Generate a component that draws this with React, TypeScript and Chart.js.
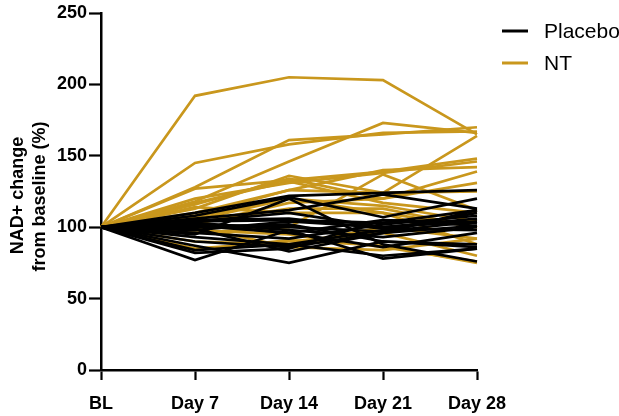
import React, { useEffect, useRef } from "react";
import { Chart, registerables } from "chart.js";

Chart.register(...registerables);

const categories = ["BL", "Day 7", "Day 14", "Day 21", "Day 28"];
const yTicks = [0, 50, 100, 150, 200, 250];
const groupNames = ["Placebo", "NT"];
const groupColors = ["#000000", "#C9971D"];

const placebo: number[][] = [
  [100, 110, 122, 124, 126],
  [100, 108, 121, 107, 120],
  [100, 77, 98, 78, 85],
  [100, 87, 75, 90, 86],
  [100, 82, 85, 105, 103],
  [100, 95, 120, 88, 76],
  [100, 104, 105, 103, 112],
  [100, 102, 100, 97, 104],
  [100, 98, 104, 100, 106],
  [100, 93, 88, 98, 110],
  [100, 103, 98, 93, 100],
  [100, 105, 106, 99, 98],
  [100, 106, 112, 123, 113],
  [100, 101, 96, 86, 96],
  [100, 99, 83, 96, 101],
  [100, 96, 92, 102, 108],
  [100, 104, 110, 100, 104],
  [100, 100, 102, 90, 88],
  [100, 84, 88, 80, 85],
  [100, 102, 96, 105, 101],
  [100, 90, 86, 96, 112],
];

const nt: number[][] = [
  [100, 192, 205, 203, 165],
  [100, 145, 158, 166, 167],
  [100, 128, 161, 165, 170],
  [100, 118, 146, 173, 166],
  [100, 127, 133, 139, 148],
  [100, 113, 136, 124, 164],
  [100, 120, 131, 138, 146],
  [100, 110, 126, 140, 142],
  [100, 116, 134, 120, 131],
  [100, 108, 126, 124, 125],
  [100, 117, 132, 117, 110],
  [100, 105, 120, 115, 104],
  [100, 103, 113, 113, 100],
  [100, 96, 100, 137, 112],
  [100, 84, 91, 87, 75],
  [100, 85, 90, 96, 80],
  [100, 90, 88, 100, 92],
  [100, 102, 117, 120, 139],
  [100, 114, 110, 110, 88],
  [100, 98, 95, 86, 76],
  [100, 107, 120, 110, 100],
  [100, 100, 86, 84, 92],
];

const FONT = "'Liberation Sans', Arial, Helvetica, sans-serif";

const overlayPlugin = {
  id: "overlay",
  afterDraw(chart: any) {
    const { ctx, chartArea } = chart;
    ctx.save();
    const cy = (chartArea.top + chartArea.bottom) / 2;
    ctx.translate(0, cy);
    ctx.rotate(-Math.PI / 2);
    ctx.fillStyle = "#000";
    ctx.font = `bold 18px ${FONT}`;
    ctx.textAlign = "center";
    ctx.textBaseline = "middle";
    ctx.fillText("NAD+ change", -4, 18);
    ctx.fillText("from baseline (%)", -5, 40);
    ctx.restore();
    ctx.save();
    ctx.font = `21px ${FONT}`;
    ctx.textAlign = "left";
    ctx.textBaseline = "middle";
    groupNames.forEach((name, i) => {
      const y = 31 + i * 32;
      ctx.strokeStyle = groupColors[i];
      ctx.lineWidth = 3;
      ctx.beginPath();
      ctx.moveTo(502, y);
      ctx.lineTo(528, y);
      ctx.stroke();
      ctx.fillStyle = "#000";
      ctx.fillText(name, 544, y + 1);
    });
    ctx.restore();
  },
};

export default function App() {
  const ref = useRef<HTMLCanvasElement>(null);
  useEffect(() => {
    if (!ref.current) return;
    const datasets: any[] = [];
    placebo.forEach((d) =>
      datasets.push({ data: d, borderColor: groupColors[0], borderWidth: 2.7, pointRadius: 0, fill: false, tension: 0 })
    );
    nt.forEach((d) =>
      datasets.push({ data: d, borderColor: groupColors[1], borderWidth: 2.7, pointRadius: 0, fill: false, tension: 0 })
    );
    const chart = new Chart(ref.current, {
      type: "line",
      data: { labels: categories, datasets },
      options: {
        animation: false,
        responsive: false,
        maintainAspectRatio: false,
        layout: { padding: { top: 13, right: 142, bottom: 0, left: 0 } },
        plugins: { legend: { display: false }, tooltip: { enabled: false } },
        scales: {
          x: {
            offset: false,
            grid: { drawOnChartArea: false, tickLength: 10, tickColor: "#000", tickWidth: 2.2 },
            border: { color: "#000", width: 2.5 },
            ticks: { color: "#000", font: { family: FONT, size: 18, weight: "bold" }, padding: 13, maxRotation: 0 },
            afterFit: (s: any) => { s.height = 46; },
          },
          y: {
            min: 0,
            max: 250,
            afterBuildTicks: (s: any) => { s.ticks = yTicks.map((v) => ({ value: v })); },
            grid: { drawOnChartArea: false, tickLength: 12, tickColor: "#000", tickWidth: 2.2 },
            border: { color: "#000", width: 2.5 },
            ticks: { color: "#000", font: { family: FONT, size: 18, weight: "bold" }, padding: 2 },
            afterFit: (s: any) => { s.width = 101; },
          },
        },
      },
      plugins: [overlayPlugin],
    });
    return () => chart.destroy();
  }, []);
  return (
    <div style={{ position: "absolute", left: 0, top: 0, width: 619, height: 416, background: "#fff" }}>
      <canvas ref={ref} width={619} height={416} style={{ width: 619, height: 416 }} />
    </div>
  );
}
